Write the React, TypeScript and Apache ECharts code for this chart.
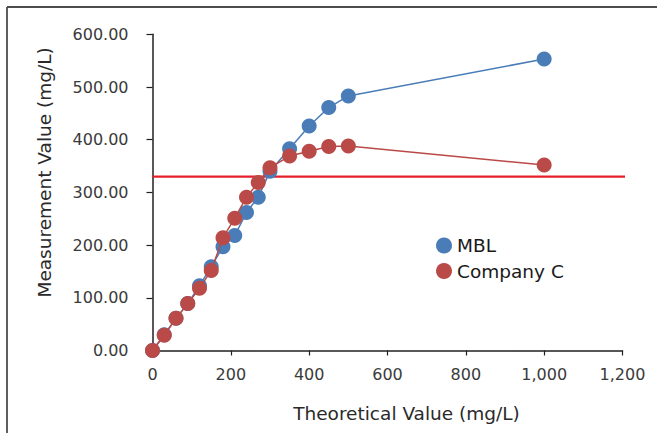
import React, { useEffect, useRef } from "react";
import * as echarts from "echarts";

const theoretical = [0, 30, 60, 90, 120, 150, 180, 210, 240, 270, 300, 350, 400, 450, 500, 1000];
const mbl = [0, 30, 61, 89, 123, 159, 197, 218, 262, 291, 340, 383, 426, 461, 483, 553];
const companyC = [0, 29, 61, 89, 118, 152, 214, 251, 291, 319, 347, 369, 378, 387, 388, 352];
const limitValue = 330;
const limitRange = [0, 1240];
const seriesNames = ["MBL", "Company C"];

const FONT = "DejaVu Sans";

export default function App() {
  const ref = useRef<HTMLDivElement>(null);
  useEffect(() => {
    if (!ref.current) return;
    const chart = echarts.init(ref.current, null, { renderer: "svg" });
    const pairs = (ys: number[]) => theoretical.map((x, i) => [x, ys[i]]);
    chart.setOption({
      animation: false,
      backgroundColor: "#ffffff",
      grid: { left: 152.5, right: 34.5, top: 34.3, bottom: 82.5 },
      legend: {
        data: seriesNames,
        orient: "vertical",
        left: 436,
        top: 236,
        padding: 0,
        icon: "circle",
        itemWidth: 16,
        itemHeight: 16,
        itemGap: 6.5,
        textStyle: { fontFamily: FONT, fontSize: 18.5, color: "#1a1a1a", lineHeight: 16 },
      },
      xAxis: {
        type: "value",
        min: 0,
        max: 1200,
        interval: 200,
        name: "Theoretical Value (mg/L)",
        nameLocation: "middle",
        nameGap: 53,
        nameTextStyle: { fontFamily: FONT, fontSize: 18.5, color: "#2a2a2a", padding: [0, 0, 0, 38] },
        axisLine: { lineStyle: { color: "#231f20", width: 1.5 } },
        axisTick: { length: 5, lineStyle: { color: "#231f20", width: 1.2 } },
        axisLabel: {
          fontFamily: FONT,
          fontSize: 16,
          color: "#3a3a3a",
          margin: 16,
          formatter: (v: number) => v.toLocaleString("en-US"),
        },
        splitLine: { show: false },
      },
      yAxis: {
        type: "value",
        min: 0,
        max: 600,
        interval: 100,
        name: "Measurement Value (mg/L)",
        nameLocation: "middle",
        nameGap: 99,
        nameTextStyle: { fontFamily: FONT, fontSize: 18.5, color: "#2a2a2a", padding: [0, 0, 0, 40] },
        axisLine: { show: true, lineStyle: { color: "#231f20", width: 1.5 } },
        axisTick: { show: true, length: 6, lineStyle: { color: "#231f20", width: 1.2 } },
        axisLabel: {
          fontFamily: FONT,
          fontSize: 16,
          color: "#3a3a3a",
          margin: 24,
          formatter: (v: number) => v.toFixed(2),
        },
        splitLine: { show: false },
      },
      series: [
        {
          name: "Limit",
          type: "line",
          data: limitRange.map((x) => [x, limitValue]),
          showSymbol: false,
          symbol: "none",
          clip: false,
          lineStyle: { color: "#e5202a", width: 2.2 },
          z: 1,
          silent: true,
        },
        {
          name: seriesNames[0],
          type: "line",
          data: pairs(mbl),
          symbol: "circle",
          symbolSize: 15,
          itemStyle: { color: "#4a7db8" },
          lineStyle: { color: "#4a7db8", width: 1.5 },
          z: 2,
        },
        {
          name: seriesNames[1],
          type: "line",
          data: pairs(companyC),
          symbol: "circle",
          symbolSize: 15,
          itemStyle: { color: "#b94a48" },
          lineStyle: { color: "#b94a48", width: 1.5 },
          z: 3,
        },
      ],
      graphic: [
        { type: "line", shape: { x1: 7, y1: 7, x2: 657, y2: 7 }, style: { stroke: "#4d4d4d", lineWidth: 1.8 } },
        { type: "line", shape: { x1: 7, y1: 7, x2: 7, y2: 433 }, style: { stroke: "#4d4d4d", lineWidth: 1.8 } },
      ],
    });
    return () => chart.dispose();
  }, []);
  return (
    <div
      ref={ref}
      style={{ position: "fixed", left: 0, top: 0, width: 657, height: 433, background: "#fff" }}
    />
  );
}
